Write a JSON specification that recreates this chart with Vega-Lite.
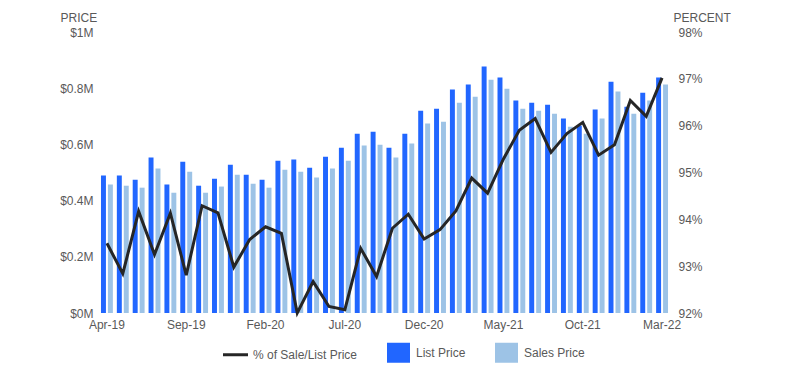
{
  "$schema": "https://vega.github.io/schema/vega-lite/v6.json",
  "width": 571,
  "height": 281,
  "autosize": {"type": "none"},
  "padding": {"left": 99, "top": 32, "right": 139, "bottom": 69},
  "config": {
    "font": "Liberation Sans",
    "view": {"stroke": null},
    "axis": {
      "grid": false,
      "domain": false,
      "ticks": false,
      "labelColor": "#595959",
      "labelFontSize": 12,
      "titleColor": "#595959",
      "titleFontWeight": "normal",
      "titleFontSize": 12
    }
  },
  "data": {
    "values": [
      {"month": "Apr-19", "List Price": 489000, "Sales Price": 457000, "pct": 93.49},
      {"month": "May-19", "List Price": 489000, "Sales Price": 453000, "pct": 92.84},
      {"month": "Jun-19", "List Price": 474000, "Sales Price": 446000, "pct": 94.17},
      {"month": "Jul-19", "List Price": 553000, "Sales Price": 514000, "pct": 93.25},
      {"month": "Aug-19", "List Price": 457000, "Sales Price": 428000, "pct": 94.13},
      {"month": "Sep-19", "List Price": 538000, "Sales Price": 503000, "pct": 92.81},
      {"month": "Oct-19", "List Price": 453000, "Sales Price": 428000, "pct": 94.29},
      {"month": "Nov-19", "List Price": 478000, "Sales Price": 450000, "pct": 94.14},
      {"month": "Dec-19", "List Price": 528000, "Sales Price": 492000, "pct": 92.98},
      {"month": "Jan-20", "List Price": 492000, "Sales Price": 460000, "pct": 93.57},
      {"month": "Feb-20", "List Price": 474000, "Sales Price": 446000, "pct": 93.84},
      {"month": "Mar-20", "List Price": 542000, "Sales Price": 510000, "pct": 93.70},
      {"month": "Apr-20", "List Price": 546000, "Sales Price": 503000, "pct": 92.00},
      {"month": "May-20", "List Price": 517000, "Sales Price": 482000, "pct": 92.67},
      {"month": "Jun-20", "List Price": 556000, "Sales Price": 514000, "pct": 92.14},
      {"month": "Jul-20", "List Price": 588000, "Sales Price": 542000, "pct": 92.07},
      {"month": "Aug-20", "List Price": 638000, "Sales Price": 596000, "pct": 93.38},
      {"month": "Sep-20", "List Price": 645000, "Sales Price": 599000, "pct": 92.78},
      {"month": "Oct-20", "List Price": 588000, "Sales Price": 553000, "pct": 93.81},
      {"month": "Nov-20", "List Price": 638000, "Sales Price": 603000, "pct": 94.11},
      {"month": "Dec-20", "List Price": 720000, "Sales Price": 674000, "pct": 93.58},
      {"month": "Jan-21", "List Price": 727000, "Sales Price": 681000, "pct": 93.78},
      {"month": "Feb-21", "List Price": 795000, "Sales Price": 748000, "pct": 94.18},
      {"month": "Mar-21", "List Price": 813000, "Sales Price": 770000, "pct": 94.88},
      {"month": "Apr-21", "List Price": 877000, "Sales Price": 830000, "pct": 94.56},
      {"month": "May-21", "List Price": 838000, "Sales Price": 798000, "pct": 95.29},
      {"month": "Jun-21", "List Price": 756000, "Sales Price": 727000, "pct": 95.90},
      {"month": "Jul-21", "List Price": 748000, "Sales Price": 720000, "pct": 96.15},
      {"month": "Aug-21", "List Price": 741000, "Sales Price": 709000, "pct": 95.43},
      {"month": "Sep-21", "List Price": 692000, "Sales Price": 663000, "pct": 95.83},
      {"month": "Oct-21", "List Price": 667000, "Sales Price": 638000, "pct": 96.07},
      {"month": "Nov-21", "List Price": 724000, "Sales Price": 692000, "pct": 95.37},
      {"month": "Dec-21", "List Price": 823000, "Sales Price": 788000, "pct": 95.59},
      {"month": "Jan-22", "List Price": 734000, "Sales Price": 709000, "pct": 96.54},
      {"month": "Feb-22", "List Price": 784000, "Sales Price": 756000, "pct": 96.20},
      {"month": "Mar-22", "List Price": 838000, "Sales Price": 813000, "pct": 97.02}
    ]
  },
  "encoding": {
    "x": {
      "field": "month",
      "type": "ordinal",
      "sort": null,
      "scale": {"paddingInner": 0.25, "paddingOuter": 0.125},
      "axis": {
        "values": ["Apr-19", "Sep-19", "Feb-20", "Jul-20", "Dec-20", "May-21", "Oct-21", "Mar-22"],
        "labelAngle": 0,
        "title": null,
        "labelPadding": 6
      }
    }
  },
  "layer": [
    {
      "transform": [{"fold": ["List Price", "Sales Price"], "as": ["series", "value"]}],
      "mark": {"type": "bar"},
      "encoding": {
        "xOffset": {"field": "series", "type": "nominal", "scale": {"paddingInner": 0.286, "paddingOuter": 0}},
        "y": {
          "field": "value",
          "type": "quantitative",
          "scale": {"domain": [0, 1000000]},
          "axis": {
            "values": [0, 200000, 400000, 600000, 800000, 1000000],
            "labelExpr": "'$' + (datum.value / 1000000) + 'M'",
            "title": "PRICE",
            "titleAngle": 0,
            "titleX": -39,
            "titleY": -10.5,
            "titleAlign": "left",
            "titleBaseline": "alphabetic",
            "labelPadding": 6
          }
        },
        "color": {
          "field": "series",
          "type": "nominal",
          "scale": {
            "domain": ["% of Sale/List Price", "List Price", "Sales Price"],
            "range": ["#262626", "#2166FF", "#9DC3E6"]
          },
          "legend": {
            "orient": "none",
            "legendX": 124,
            "legendY": 308,
            "direction": "horizontal",
            "title": null,
            "padding": 0,
            "symbolSize": 625,
            "labelFontSize": 12,
            "labelColor": "#595959",
            "labelOffset": 5,
            "columnPadding": 28,
            "encode": {
              "symbols": {
                "update": {
                  "shape": {"signal": "datum.value === '% of Sale/List Price' ? 'M-1,-0.12H1V0.12H-1Z' : 'M-0.92,-0.8H0.92V0.8H-0.92Z'"},
                  "fill": {"scale": "color", "field": "value"},
                  "fillOpacity": {"value": 1},
                  "opacity": {"value": 1},
                  "strokeWidth": {"value": 0}
                }
              }
            }
          }
        }
      }
    },
    {
      "mark": {"type": "line", "strokeWidth": 3},
      "encoding": {
        "y": {
          "field": "pct",
          "type": "quantitative",
          "scale": {"domain": [92, 98]},
          "axis": {
            "orient": "right",
            "values": [92, 93, 94, 95, 96, 97, 98],
            "labelExpr": "datum.value + '%'",
            "title": "PERCENT",
            "titleAngle": 0,
            "titleX": 3,
            "titleY": -10.5,
            "titleAlign": "left",
            "titleBaseline": "alphabetic",
            "labelPadding": 8
          }
        },
        "color": {"datum": "% of Sale/List Price"}
      }
    }
  ],
  "resolve": {"scale": {"y": "independent"}}
}
